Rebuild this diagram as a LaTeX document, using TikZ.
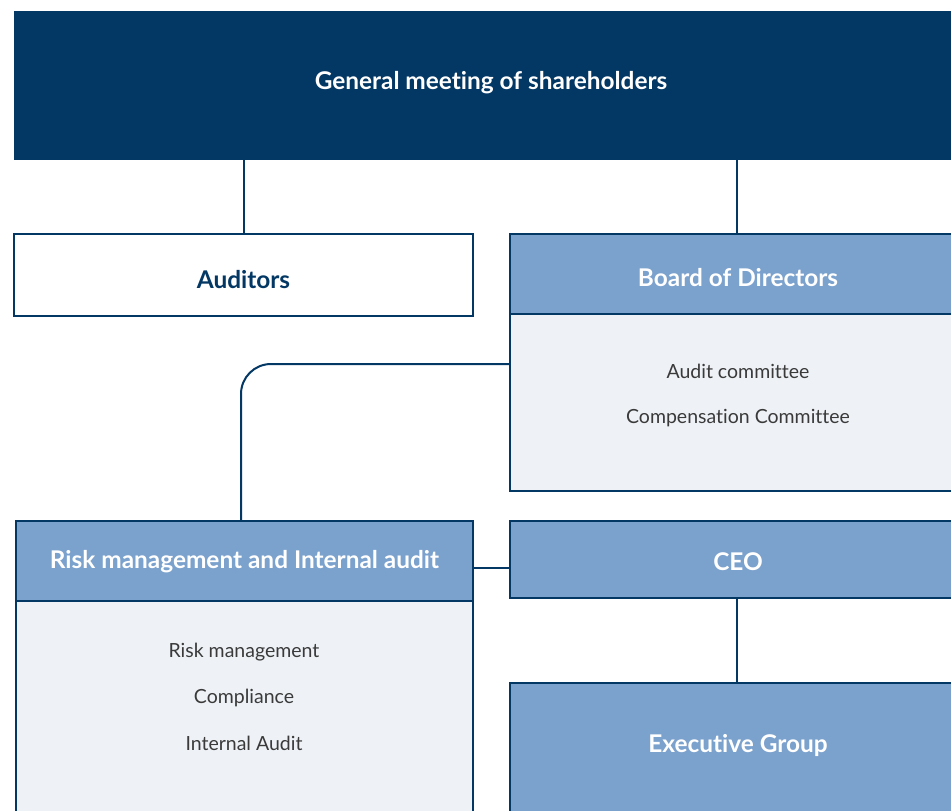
\documentclass[tikz,border=0pt]{standalone}
\usepackage{fontspec}
\setmainfont{Lato}[Ligatures={NoCommon}]
\definecolor{navy}{HTML}{033764}
\definecolor{midblue}{HTML}{7BA1CD}
\definecolor{pale}{HTML}{EEF2F6}
\definecolor{bodytxt}{HTML}{3A3A3A}
\begin{document}
\begin{tikzpicture}[x=1pt,y=-1pt,
  every node/.style={inner sep=0pt, outer sep=0pt},
  darkbox/.style={fill=navy},
  whitebox/.style={draw=navy, line width=1.8pt, fill=white},
  headbox/.style={draw=navy, line width=1.2pt, fill=midblue},
  bodybox/.style={draw=navy, line width=1.2pt, fill=pale},
  headtxt/.style={text=white, font=\bfseries\fontsize{24.4}{28}\selectfont},
  navytxt/.style={text=navy, font=\bfseries\fontsize{24.4}{28}\selectfont},
  itemtxt/.style={text=bodytxt, font=\fontsize{19.5}{23}\selectfont},
  conn/.style={draw=navy, line width=2pt}]
\clip (0,0) rectangle (951,811);
\fill[white] (0,0) rectangle (951,811);
% boxes
\node[darkbox, minimum width=954pt, minimum height=149pt] (gm) at (491,85.5) {};
\node[whitebox, minimum width=459pt, minimum height=82pt] (aud) at (243.5,275) {};
\node[bodybox, minimum width=456pt, minimum height=177pt] (bb) at (738,402.5) {};
\node[headbox, minimum width=456pt, minimum height=80pt] (bh) at (738,274) {};
\node[bodybox, minimum width=457pt, minimum height=230pt] (rb) at (244.5,716) {};
\node[headbox, minimum width=457pt, minimum height=80pt] (rh) at (244.5,561) {};
\node[headbox, minimum width=456pt, minimum height=77pt] (ceo) at (738,559.5) {};
\node[headbox, minimum width=456pt, minimum height=160pt] (ex) at (738,763) {};
% texts
\node[headtxt] (gmt) at (491,83) {General meeting of shareholders};
\node[navytxt] (audt) at (243.5,279.5) {Auditors};
\node[headtxt] (bht) at (738,277.5) {Board of Directors};
\node[itemtxt] (b1) at (738,371) {Audit committee};
\node[itemtxt] (b2) at (738,418) {Compensation Committee};
\node[headtxt] (rht) at (244.5,561.5) {Risk management and Internal audit};
\node[itemtxt] (r1) at (244,652) {Risk management};
\node[itemtxt] (r2) at (244,698) {Compliance};
\node[itemtxt] (r3) at (244,743) {Internal Audit};
\node[headtxt] (ceot) at (738,561.5) {CEO};
\node[headtxt] (ext) at (738,745.5) {Executive Group};
% connectors
\draw[conn] (aud.north |- gm.south) -- (aud.north);
\draw[conn] ([xshift=-1pt]bh.north |- gm.south) -- ([xshift=-1pt]bh.north);
\draw[conn, rounded corners=30pt] ([yshift=38.5pt]bb.west) -| ([xshift=-3.5pt]rh.north);
\draw[conn] ([yshift=-7pt]rh.east) -- ([yshift=-8.5pt]ceo.west);
\draw[conn] ([xshift=-1pt]ceo.south) -- ([xshift=-1pt]ex.north);
\end{tikzpicture}
\end{document}
